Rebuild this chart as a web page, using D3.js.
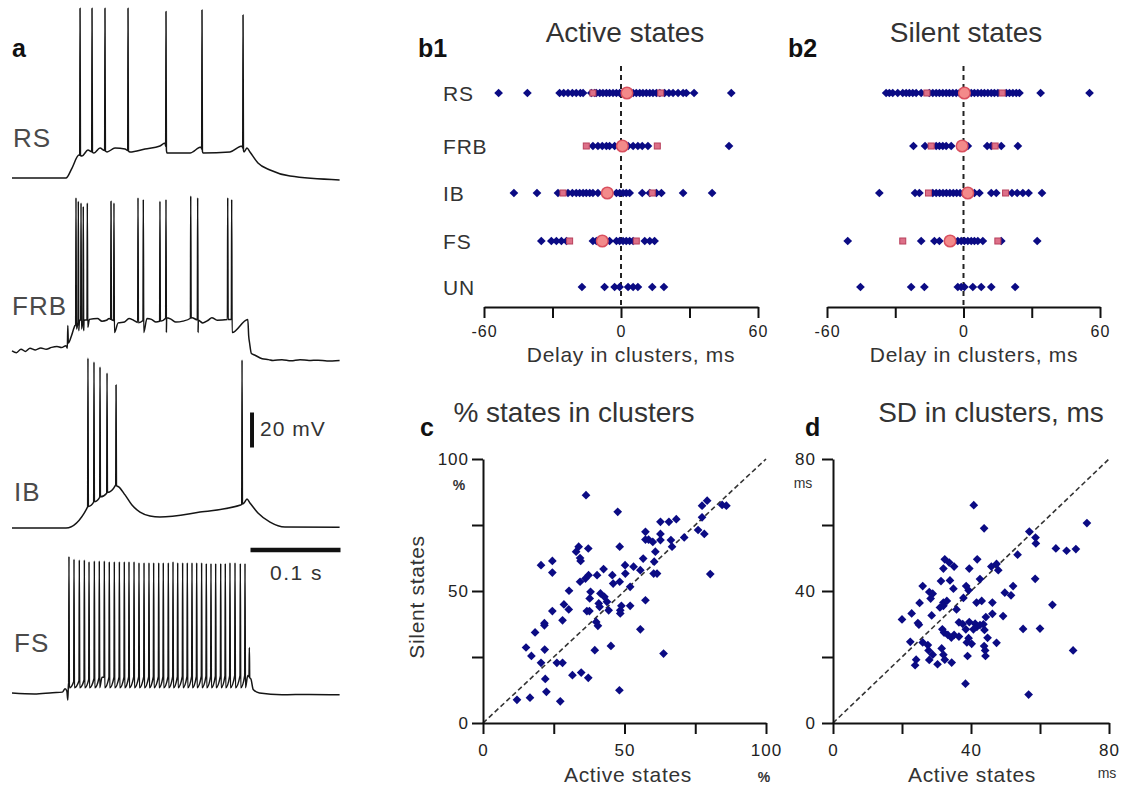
<!DOCTYPE html>
<html><head><meta charset="utf-8">
<script src="https://cdn.jsdelivr.net/npm/d3@7"></script>
<style>
html,body{margin:0;padding:0;background:#fff;}
svg{display:block;}
</style></head><body>
<svg id="fig" width="1125" height="792"></svg>
<script>
// ---------------- DATA ----------------
// Panel a: membrane potential traces (time in ms, voltage in mV)
const rsBase = [[0,-70],[60,-70],[66.7,-64.3],[74.4,-56.9],[77.8,-57.4],[84.4,-54],[91.1,-55.7],[97.8,-52.9],[105.6,-55.1],[114.4,-52.9],[125.6,-53.4],[131.1,-55.1],[147.8,-53.4],[164.4,-51.7],[170,-50],[172.2,-55.7],[197.8,-55.7],[210,-52.3],[212.2,-55.7],[242.2,-55.1],[255.6,-51.7],[257.8,-55.1],[261.1,-52.9],[264.4,-55.1],[273.3,-61.4],[286.7,-65.4],[308.9,-68.9],[364,-71.1]];
const rsSpikes = [[75.6,27],[88.9,27],[103.3,27],[128.9,27],[171.1,25.1],[211.1,26],[256.7,23.1]];

const frbBase = [[0,-70.5],[5,-71.5],[10,-69.5],[15,-70.8],[20,-69],[26,-70],[32,-68.8],[38,-69.6],[44,-68.5],[50,-68],[55,-68.6],[60,-67.5],[61.5,-69],[62,-56],[62.6,-66],[66,-62],[70,-56],[75,-53],[80,-53],[86,-52.5],[95,-52],[100,-53.5],[105,-53],[108,-52],[112,-53],[118,-54.5],[125,-54],[130,-52],[135,-53],[140.6,-54.5],[150,-52],[155,-52.5],[160,-54],[165,-53.5],[171.8,-51.5],[177,-52.5],[182,-54],[190,-53.5],[200,-51.5],[207,-53],[212,-54.5],[218,-53],[222,-51.5],[228,-53],[240.5,-52.5],[262,-52.5],[263,-62],[264,-66],[266,-72],[270,-73],[278,-75],[285,-75.5],[290,-76],[300,-75.5],[310,-76.2],[320,-75.5],[330,-76],[340,-75.8],[350,-76.3],[364,-76]];
const frbSpikes = [[71.1,17,-58],[73.7,15,-59],[76.7,14,-58],[79.2,12,-59],[83.7,14,-57],[110,15],[113.3,14,-60],[140,17],[145.9,16,-60],[164.4,15],[171.1,16,-60],[198.6,18],[206.3,17,-60],[239.7,17],[244.1,16,-60]];

const ibBase = [[0,-70],[60,-70],[84,-58],[91.1,-55.1],[97.8,-52.3],[105.6,-50],[115.2,-45.4],[118.9,-46.6],[125.6,-51.1],[133.3,-56.9],[142.2,-60.9],[153.3,-63.1],[164.4,-63.7],[208.9,-60.9],[254,-56.9],[257.8,-55.7],[261.1,-53.4],[264.4,-55.7],[273.3,-61.4],[286.7,-66.6],[303.3,-69.4],[364,-69.6]];
const ibSpikes = [[84.4,27.1],[91.1,24.9],[97.8,22],[105.6,18.6],[115.6,11.7],[255.6,26]];

const fsBase = [[0,-70],[25,-70.5],[45,-69.8],[56,-69.5],[59,-67.5],[61,-69],[62,-74],[62.8,-64],[100,-61],[200,-60.5],[262,-60],[265.5,-62],[268,-68],[275,-70],[300,-71],[330,-70.8],[364,-71]];
const fsSpikeTimes = [63.3,68.9,74.8,80.4,85.6,91.5,97.0,102.6,108.1,113.7,119.3,124.8,130.0,135.6,141.1,146.7,152.2,157.4,163.0,168.1,173.7,178.9,184.1,189.6,194.8,200.0,205.2,210.7,215.9,221.1,226.3,231.9,237.0,242.2,247.8,253.7,258.9,263.7];
const fsSpikePeaks = [8,6.5,6,6,5,5.5,5.5,5.5,5,5,5,5,5,5,4.5,4.5,4.5,4.5,4.5,4.5,4.5,5,4.5,4.5,4.5,4.5,4.5,4.5,4,4,4,4,4,4.5,4.5,4,4,-44];
const fsTrough = -67;

const traceNames = ["RS","FRB","IB","FS"];
const scaleBarTime = [265,365];   // 0.1 s
const scaleBarVolt = [-24,-4];    // 20 mV

// Panel b: delays in clusters (ms)
const rowLabels = ["RS","FRB","IB","FS","UN"];
const activeRS  = [-53.6,-41,-26.9,-25.1,-23.2,-21.3,-19.6,-17.8,-16.6,-13,-11.5,-10.8,-9.3,-7.9,-6.4,-5.0,-3.5,-2.0,-0.6,0.9,3.5,5.3,6.7,8.2,9.6,11.1,12.6,14.0,15.5,17,19.1,21.0,22.8,25.0,27.2,28.6,32.0,48.3];
const activeFRB = [-12.3,-10.1,-8.2,-6.4,-5.0,-2.8,-1,2,3.1,5.3,7.4,9.3,11.8,47.3];
const activeIB  = [-46.9,-36.8,-27.6,-23.2,-21.3,-19.6,-18.1,-16.6,-15.2,-13.7,-12.3,-10.1,-2.0,-0.6,0.9,2.3,3.8,9.3,12.6,15.5,17.7,27.2,39.9];
const activeFS  = [-34.9,-30.5,-28.3,-26.1,-23.9,-12.3,-10.8,-5.0,-2.0,-0.6,0.9,2.3,3.8,5.3,10.4,12.6,14.7];
const activeUN  = [-17.1,-7.2,-2.8,-0.6,3.1,5.3,7.4,13.7,18.8];
const activeMedian = [2.6,0.6,-6.0,-8.2,null];
const activeQ1     = [-12.3,-15.2,-25.4,-22.5,null];
const activeQ3     = [17.4,15.9,13.7,6.7,null];

const silentRS  = [-34.0,-32.6,-31.1,-28.9,-26.7,-25.2,-23.8,-22.3,-20.8,-18.6,-15,-13.5,-12.0,-10.6,-9.1,-7.6,-6.2,-4.7,-3.2,-1.8,2,3.4,4.8,6.3,7.8,9.2,10.7,12.2,13.6,15.1,18.8,20.2,21.7,23.2,24.6,33.9,55.4];
const silentFRB = [-22.0,-16.9,-12.0,-10.6,-9.1,-7.6,-5.4,1.9,10.4,12.2,16.6,23.9];
const silentIB  = [-37.0,-21.3,-19.4,-13.5,-12,-10.5,-9,-7.5,-6,-4.5,-3,-1.5,4.8,7.0,12.2,14.4,21.3,23.6,26.1,28.6,34.5];
const silentFS  = [-50.9,-18.6,-12.8,-10.6,-2.5,-1.0,0.4,1.9,3.4,4.8,6.3,8.5,16.6,32.4];
const silentUN  = [-45.3,-23.0,-17.2,-2.5,-1.0,0.4,4.1,7.8,12.2,22.7];
const silentMedian = [0.4,-0.6,1.9,-5.9,null];
const silentQ1     = [-16.1,-14.2,-15.4,-26.7,null];
const silentQ3     = [17.0,13.9,18.5,15.1,null];

const delayTicks = [-60,-30,0,30,60];

// Panel c: % states in clusters
const pctActive = [36.4,47.6,12.0,16.6,22.4,27.3,22.0,31.6,34.7,37.2,48.2,15.2,17.1,20.5,21.8,26.1,28.1,18.4,21.7,21.7,24.5,28.1,28.6,30.3,30.4,20.5,24.5,24.5,32.9,33.8,34.3,34.5,37.2,34.3,36.2,37.3,38.0,37.7,36.7,37.6,40.0,40.6,39.5,45.2,40.3,42.6,41.5,40.9,41.2,42.9,44.4,43.8,45.7,46.0,48.3,48.3,48.5,48.5,48.9,50.3,50.2,52.0,52.0,53.2,55.6,55.6,56.6,57.4,57.4,57.4,58.5,60.0,60.9,60.5,60.3,61.5,62.7,62.7,62.7,63.8,65.7,66.4,66.8,68.3,71.1,76.0,77.4,77.4,79.2,78.2,80.3,84.5,86.0];
const pctSilent = [86.3,80.0,8.8,9.6,11.8,8.2,16.7,18.1,19.1,17.1,12.4,28.6,25.4,22.8,27.8,22.8,22.8,34.3,37.0,37.8,42.4,38.9,44.9,43.0,50.1,59.8,61.4,57.0,64.9,66.8,62.5,61.4,66.1,53.5,54.7,56.0,49.7,47.2,42.4,42.4,38.3,36.8,27.6,29.2,56.0,58.3,49.1,45.3,44.0,47.8,42.7,45.9,56.0,52.8,53.5,66.8,42.7,41.5,44.4,56.6,59.8,44.4,51.6,59.2,57.9,35.5,62.3,46.5,72.4,69.5,69.5,68.6,64.9,61.1,56.6,56.6,76.2,71.6,69.3,26.3,76.2,69.3,66.8,77.2,70.3,73.1,77.9,82.3,84.2,71.6,56.4,82.6,82.3];
const pctTicks = [0,25,50,75,100];

// Panel d: SD in clusters (ms)
const sdActive = [40.8,43.8,73.6,56.9,58.7,58.8,64.6,67.7,70.4,53.5,58.6,63.6,55.1,60.0,69.6,56.7,38.4,32.4,33.7,35.1,32.0,39.5,41.8,45.9,47.4,47.9,42.6,31.3,33.9,34.9,26.0,27.9,28.9,28.3,25.1,32.0,33.0,32.0,31.0,38.6,39.3,37.8,41.6,43.1,46.2,52.2,49.8,51.6,20.0,22.8,24.6,24.9,28.6,35.8,36.5,37.6,39.5,41.2,41.7,42.6,43.6,44.3,46.2,49.3,31.7,32.2,33.3,34.3,35.1,36.5,38.5,39.3,40.7,43.9,44.8,22.4,26.0,27.5,27.7,28.9,31.5,32.0,38.8,40.2,43.8,44.1,47.4,44.2,39.0,24.1,23.8,27.9,30.3,32.4,34.4];
const sdSilent = [66.0,59.0,60.6,58.0,56.2,54.4,52.9,52.2,52.7,51.0,43.7,35.8,28.5,28.6,22.0,8.6,11.9,49.6,48.6,47.4,46.8,46.8,49.6,47.4,48.2,46.3,43.6,43.0,43.2,40.7,41.5,39.7,39.2,37.7,36.4,36.5,37.0,35.5,35.0,41.5,40.2,37.9,36.5,37.0,36.5,41.5,39.5,38.7,31.4,33.2,30.3,29.8,32.6,34.4,30.5,30.0,30.6,30.1,29.1,29.7,29.9,32.1,33.1,32.4,28.4,27.4,26.7,25.9,26.7,26.2,28.4,25.7,28.4,28.2,25.8,24.6,24.4,23.6,22.0,20.7,22.6,20.7,24.4,24.0,23.3,22.0,24.3,20.3,20.3,19.2,17.5,19.1,17.8,19.2,18.3];
const sdTicks = [0,20,40,60,80];

// ---------------- DRAWING ----------------
const FONT = "'Liberation Sans', Arial, Helvetica, sans-serif";
const svg = d3.select("#fig");
svg.append("rect").attr("width",1125).attr("height",792).attr("fill","#fff");

function txt(x,y,s,o={}) {
  const t = svg.append("text").attr("x",x).attr("y",y).text(s)
    .attr("font-family",FONT).attr("font-size",o.size||22)
    .attr("fill",o.fill||"#333").attr("text-anchor",o.anchor||"start");
  if (o.bold) t.attr("font-weight","bold");
  if (o.ls) t.attr("letter-spacing",o.ls);
  if (o.rotate) t.attr("transform",`rotate(${o.rotate},${x},${y})`);
  return t;
}

// ---- Panel a: traces
const tx = d3.scaleLinear([0,364],[12,339.6]);
const traceY = {
  RS:  d3.scaleLinear([-70,30],[178,3]),
  FRB: d3.scaleLinear([-70,30],[350,175]),
  IB:  d3.scaleLinear([-70,30],[528,353]),
  FS:  d3.scaleLinear([-70,30],[693,518])
};
function buildTrace(base, spikes) {
  const b = d3.scaleLinear(base.map(d=>d[0]), base.map(d=>d[1]));
  const pts = base.filter(p => !spikes.some(s => p[0] > s[0]-0.5 && p[0] < s[0]+0.7))
                  .map(p => ({t:p[0], v:p[1]}));
  spikes.forEach(s => {
    const t = s[0];
    pts.push({t:t-0.35, v:b(t-0.35)}, {t:t, v:s[1]},
             {t:t+0.45, v:(s[2]!==undefined ? s[2] : b(t+0.45))});
  });
  pts.sort((a,c)=>a.t-c.t);
  return pts;
}
const fsSpikes = fsSpikeTimes.map((t,i)=> i < fsSpikeTimes.length-1 ? [t, fsSpikePeaks[i], fsTrough] : [t, fsSpikePeaks[i]]);
const traces = {
  RS: buildTrace(rsBase, rsSpikes),
  FRB: buildTrace(frbBase, frbSpikes),
  IB: buildTrace(ibBase, ibSpikes),
  FS: buildTrace(fsBase, fsSpikes)
};
traceNames.forEach(n => {
  const line = d3.line().x(d=>tx(d.t)).y(d=>traceY[n](d.v)).curve(d3.curveMonotoneX);
  svg.append("path").datum(traces[n]).attr("d",line)
    .attr("fill","none").attr("stroke","#151515").attr("stroke-width",1.5)
    .attr("stroke-linejoin","round");
});
const traceLabelPos = {RS:[13,147],FRB:[12,315],IB:[14,501],FS:[14,652]};
traceNames.forEach(n => txt(traceLabelPos[n][0],traceLabelPos[n][1],n,{size:26,fill:"#4a4a4a",ls:1}));
// scale bars
svg.append("line").attr("x1",tx(266.7)).attr("x2",tx(266.7))
  .attr("y1",traceY.IB(scaleBarVolt[0])).attr("y2",traceY.IB(scaleBarVolt[1]))
  .attr("stroke","#111").attr("stroke-width",4);
svg.append("line").attr("x1",tx(scaleBarTime[0])).attr("x2",tx(scaleBarTime[1]))
  .attr("y1",550).attr("y2",550).attr("stroke","#111").attr("stroke-width",4.5);
txt(260,436,"20 mV",{size:21,fill:"#333",ls:1});
txt(270,580,"0.1 s",{size:21,fill:"#333",ls:1.5});
txt(12,57,"a",{size:25,bold:true,fill:"#111"});

// ---- Panels b1 / b2
const rowY = d3.scaleOrdinal(rowLabels,[93,146,193,241,287]);
const navy = "#0b0b84";
const diamond = d3.symbol(d3.symbolSquare, 38)();
function styleAxis(g, fs, ls) {
  g.attr("font-family",FONT).attr("font-size",fs);
  g.select(".domain").attr("stroke","#111").attr("stroke-width",2);
  g.selectAll(".tick line").attr("stroke","#111").attr("stroke-width",2);
  g.selectAll(".tick text").attr("fill","#222").attr("letter-spacing",ls);
}
function delayPanel(xs, groups, med, q1, q3, labelX, title, titleX, letter, letterX, showRows) {
  svg.append("line").attr("x1",xs(0)).attr("x2",xs(0)).attr("y1",66).attr("y2",307)
    .attr("stroke","#222").attr("stroke-width",2).attr("stroke-dasharray","5,4");
  const ax = svg.append("g").attr("transform","translate(0,307)")
    .call(d3.axisBottom(xs).tickValues(delayTicks).tickFormat(d => d%60===0 ? String(d) : "")
      .tickSize(11).tickSizeOuter(0).tickPadding(8));
  styleAxis(ax,16,1);
  rowLabels.forEach((r,i) => {
    svg.append("g").selectAll("path").data(groups[i]).join("path")
      .attr("d",diamond).attr("fill",navy)
      .attr("transform",d=>`translate(${xs(d)},${rowY(r)}) rotate(45)`);
  });
  rowLabels.forEach((r,i) => {
    [q1[i],q3[i]].forEach(v => {
      if (v===null) return;
      svg.append("rect").attr("x",xs(v)-3).attr("y",rowY(r)-3).attr("width",6).attr("height",6)
        .attr("fill","#dd7088").attr("stroke","#b8405c").attr("stroke-width",1);
    });
    if (med[i]!==null) svg.append("circle").attr("cx",xs(med[i])).attr("cy",rowY(r)).attr("r",5.8)
      .attr("fill","#f38a8a").attr("stroke","#d9505f").attr("stroke-width",1.5);
  });
  if (showRows) rowLabels.forEach(r => txt(443,rowY(r)+8,r,{size:21,fill:"#333",ls:0.8}));
  txt(labelX,362,"Delay in clusters, ms",{size:21,anchor:"middle",ls:0.7,fill:"#333"});
  txt(titleX,42,title,{size:28,anchor:"middle",fill:"#333"});
  txt(letterX,57,letter,{size:25,bold:true,fill:"#111"});
}
const b1x = d3.scaleLinear([-60,60],[484,758]);
const b2x = d3.scaleLinear([-60,60],[827,1100]);
delayPanel(b1x,[activeRS,activeFRB,activeIB,activeFS,activeUN],activeMedian,activeQ1,activeQ3,631,"Active states",625,"b1",418,true);
delayPanel(b2x,[silentRS,silentFRB,silentIB,silentFS,silentUN],silentMedian,silentQ1,silentQ3,974,"Silent states",966,"b2",788,false);

// ---- Panels c / d
function scatterPanel(xs, ys, xv, yv, ticks, maxV, yPad) {
  const labelSet = [ticks[0], ticks[2], ticks[4]];
  svg.append("line").attr("x1",xs(0)).attr("y1",ys(0)).attr("x2",xs(maxV)).attr("y2",ys(maxV))
    .attr("stroke","#333").attr("stroke-width",1.6).attr("stroke-dasharray","5,3");
  const gx = svg.append("g").attr("transform",`translate(0,${ys(0)})`)
    .call(d3.axisBottom(xs).tickValues(ticks).tickFormat(d => labelSet.includes(d) ? String(d) : "")
      .tickSize(11).tickSizeOuter(0).tickPadding(10));
  styleAxis(gx,17,1);
  const gy = svg.append("g").attr("transform",`translate(${xs(0)},0)`)
    .call(d3.axisLeft(ys).tickValues(ticks).tickFormat(d => labelSet.includes(d) ? String(d) : "")
      .tickSize(11).tickSizeOuter(0).tickPadding(yPad));
  styleAxis(gy,17,1);
  svg.append("g").selectAll("path").data(xv).join("path")
    .attr("d",diamond).attr("fill",navy)
    .attr("transform",(d,i)=>`translate(${xs(d)},${ys(yv[i])}) rotate(45)`);
}
const cx = d3.scaleLinear([0,100],[483,766]);
const cy = d3.scaleLinear([0,100],[723,459]);
scatterPanel(cx,cy,pctActive,pctSilent,pctTicks,100,3);
const dxs = d3.scaleLinear([0,80],[833,1109]);
const dys = d3.scaleLinear([0,80],[723,459]);
scatterPanel(dxs,dys,sdActive,sdSilent,sdTicks,80,6);

txt(574,422,"% states in clusters",{size:28,anchor:"middle",fill:"#333"});
txt(991,422,"SD in clusters, ms",{size:28,anchor:"middle",fill:"#333"});
txt(420,436,"c",{size:25,bold:true,fill:"#111"});
txt(805,436,"d",{size:25,bold:true,fill:"#111"});
txt(628,782,"Active states",{size:21,anchor:"middle",ls:0.7,fill:"#333"});
txt(972,782,"Active states",{size:21,anchor:"middle",ls:0.7,fill:"#333"});
txt(424,597,"Silent states",{size:21,anchor:"middle",ls:0.7,fill:"#333",rotate:-90});
txt(459,490,"%",{size:14,anchor:"middle",bold:true,fill:"#333"});
txt(764,782,"%",{size:14,anchor:"middle",bold:true,fill:"#333"});
txt(803,488,"ms",{size:14,anchor:"middle",fill:"#333"});
txt(1107,778,"ms",{size:14,anchor:"middle",fill:"#333"});
</script></body></html>
